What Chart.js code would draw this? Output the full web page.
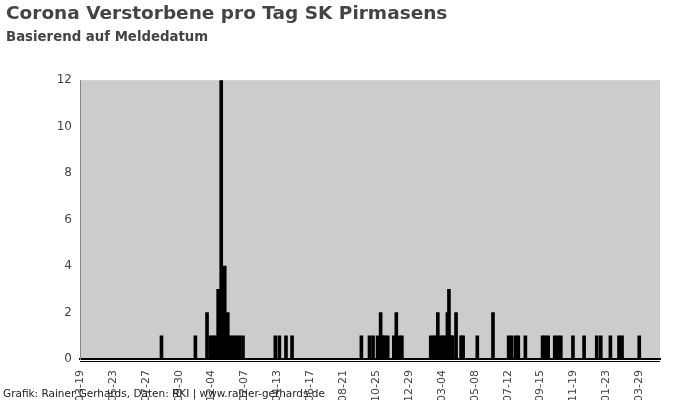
<!DOCTYPE html>
<html>
<head>
<meta charset="utf-8">
<script src="https://cdn.jsdelivr.net/npm/chart.js@4/dist/chart.umd.min.js"></script>
<style>
  html, body { margin: 0; padding: 0; background: #fff; }
  #wrap { width: 700px; height: 400px; }
</style>
</head>
<body>
<div id="wrap"><canvas id="verstorbene"></canvas></div>
<script>
// Daten: Meldedatum und Verstorbene an diesem Tag, Tage ohne Meldung = 0
var startDatum = '2020-03-19';
var endDatum = '2023-05-09';
var tickAbstand = 65; // Tage zwischen den Achsenbeschriftungen

var meldedatum = [
  '2020-08-27', '2020-11-02', '2020-11-25', '2020-12-02', '2020-12-07', '2020-12-12',
  '2020-12-17', '2020-12-23', '2020-12-30', '2021-01-05', '2021-01-10', '2021-01-16',
  '2021-01-22', '2021-01-28', '2021-02-04',
  '2021-04-09', '2021-04-17', '2021-04-30', '2021-05-12',
  '2021-09-26', '2021-10-12', '2021-10-19', '2021-10-28', '2021-11-03', '2021-11-07',
  '2021-11-11', '2021-11-17', '2021-11-29', '2021-12-04', '2021-12-09', '2021-12-15',
  '2022-02-10', '2022-02-16', '2022-02-21', '2022-02-24', '2022-03-01', '2022-03-06',
  '2022-03-11', '2022-03-15', '2022-03-18', '2022-03-22', '2022-03-25', '2022-04-01',
  '2022-04-11', '2022-04-15', '2022-05-13', '2022-06-13',
  '2022-07-14', '2022-07-20', '2022-07-28', '2022-08-02', '2022-08-16', '2022-09-19',
  '2022-09-24', '2022-09-30', '2022-10-13', '2022-10-19', '2022-10-25', '2022-11-18',
  '2022-12-10', '2023-01-04', '2023-01-12', '2023-01-31', '2023-02-17', '2023-02-23',
  '2023-03-29'
];
var verstorbene = [
  1, 1, 2, 1, 1, 1,
  3, 12, 4, 2, 1, 1,
  1, 1, 1,
  1, 1, 1, 1,
  1, 1, 1, 1, 2, 1,
  1, 1, 1, 2, 1, 1,
  1, 1, 1, 2, 1, 1,
  1, 2, 3, 1, 1, 2,
  1, 1, 1, 2,
  1, 1, 1, 1, 1, 1,
  1, 1, 1, 1, 1, 1,
  1, 1, 1, 1, 1, 1,
  1
];
var yTicks = [0, 2, 4, 6, 8, 10, 12];

// Hilfsfunktionen fuer Datum <-> Tagesindex
var TAG_MS = 24 * 3600 * 1000;
function tagIndex(datum) {
  var p = datum.split('-');
  var s = startDatum.split('-');
  return Math.round((Date.UTC(+p[0], p[1] - 1, +p[2]) - Date.UTC(+s[0], s[1] - 1, +s[2])) / TAG_MS);
}
function datumText(index) {
  var s = startDatum.split('-');
  var d = new Date(Date.UTC(+s[0], s[1] - 1, +s[2]) + index * TAG_MS);
  return d.toISOString().slice(0, 10);
}

var punkte = meldedatum.map(function (datum, i) {
  return { x: tagIndex(datum), y: verstorbene[i] };
});
var maxTag = tagIndex(endDatum);

// Hintergrund der Zeichenflaeche und Fusszeile
var extras = {
  id: 'extras',
  beforeDraw: function (chart) {
    var a = chart.chartArea, ctx = chart.ctx;
    ctx.save();
    ctx.fillStyle = '#cccccc';
    ctx.fillRect(a.left, a.top, a.right - a.left, a.bottom - a.top);
    ctx.restore();
  },
  afterDraw: function (chart) {
    var a = chart.chartArea, ctx = chart.ctx;
    ctx.save();
    ctx.strokeStyle = '#000';
    ctx.lineWidth = 1;
    ctx.beginPath();
    ctx.moveTo(a.left, a.bottom + 2.5);
    ctx.lineTo(a.right, a.bottom + 2.5);
    ctx.stroke();
    ctx.fillStyle = '#222';
    ctx.font = '10.5px "DejaVu Sans"';
    ctx.textAlign = 'left';
    ctx.textBaseline = 'alphabetic';
    ctx.fillText('Grafik: Rainer Gerhards, Daten: RKI | www.rainer-gerhards.de', 3, 397);
    ctx.restore();
  }
};

Chart.defaults.font.family = '"DejaVu Sans", sans-serif';
Chart.defaults.color = '#444';

var ctx = document.getElementById('verstorbene').getContext('2d');
var chart = new Chart(ctx, {
  type: 'bar',
  data: {
    datasets: [{
      label: 'Verstorbene',
      data: punkte,
      backgroundColor: '#000',
      borderWidth: 0,
      barThickness: 3
    }]
  },
  options: {
    responsive: true,
    maintainAspectRatio: false,
    animation: false,
    layout: { padding: { left: 6, right: 40, top: 0, bottom: 0 } },
    plugins: {
      legend: { display: false },
      tooltip: { enabled: false },
      title: {
        display: true,
        text: 'Corona Verstorbene pro Tag SK Pirmasens',
        align: 'start',
        color: '#444',
        font: { size: 18.5, weight: 'bold' },
        padding: { top: 3, bottom: 4 }
      },
      subtitle: {
        display: true,
        text: 'Basierend auf Meldedatum',
        align: 'start',
        color: '#444',
        font: { size: 13.3, weight: 'bold' },
        padding: { top: 0, bottom: 35 }
      }
    },
    scales: {
      x: {
        type: 'linear',
        min: 0,
        max: maxTag,
        offset: false,
        grid: { display: false },
        border: { display: true, color: '#000', width: 2 },
        ticks: {
          stepSize: tickAbstand,
          autoSkip: false,
          minRotation: 90,
          maxRotation: 90,
          padding: 3,
          color: '#444',
          font: { size: 11 },
          callback: function (value) { return datumText(value); }
        },
        afterBuildTicks: function (scale) {
          scale.ticks = scale.ticks.filter(function (t) {
            return t.value % tickAbstand === 0 && t.value <= maxTag;
          });
        },
        afterFit: function (scale) { scale.height = 41; }
      },
      y: {
        min: yTicks[0],
        max: yTicks[yTicks.length - 1],
        grid: { display: false },
        border: { display: true, color: '#888', width: 1 },
        ticks: {
          stepSize: 2,
          padding: 0,
          color: '#444',
          font: { size: 12 }
        },
        afterFit: function (scale) { scale.width = 74; }
      }
    }
  },
  plugins: [extras]
});
</script>
</body>
</html>
